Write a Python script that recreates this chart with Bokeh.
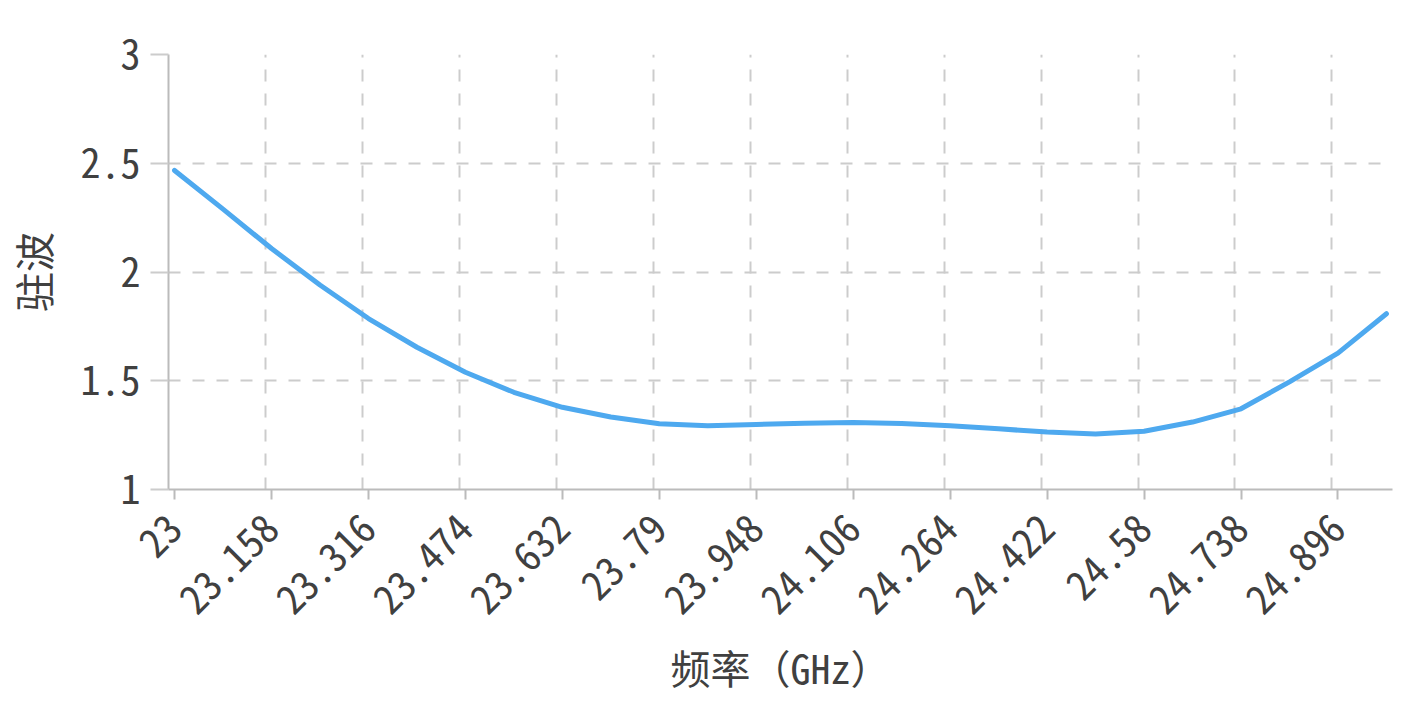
import math

from bokeh.plotting import figure
from bokeh.models import Range1d, FixedTicker
from bokeh.embed import file_html
from bokeh.resources import INLINE

# Data
freq = [23.0, 23.079, 23.158, 23.237, 23.316, 23.395, 23.474, 23.553, 23.632,
        23.711, 23.79, 23.869, 23.948, 24.027, 24.106, 24.185, 24.264, 24.343,
        24.422, 24.501, 24.58, 24.659, 24.738, 24.817, 24.896, 24.975]
vswr = [2.467, 2.289, 2.108, 1.940, 1.786, 1.654, 1.539, 1.447, 1.378,
        1.333, 1.302, 1.293, 1.299, 1.305, 1.308, 1.304, 1.293, 1.279,
        1.264, 1.255, 1.268, 1.310, 1.371, 1.495, 1.627, 1.808]

x_ticks = [23.0, 23.158, 23.316, 23.474, 23.632, 23.79, 23.948, 24.106,
           24.264, 24.422, 24.58, 24.738, 24.896]
x_labels = ["23", "23.158", "23.316", "23.474", "23.632", "23.79", "23.948",
            "24.106", "24.264", "24.422", "24.58", "24.738", "24.896"]
y_ticks = [1, 1.5, 2, 2.5, 3]
y_labels = ["1", "1.5", "2", "2.5", "3"]

# category step of the original axis (8 categories between labels)
step = (x_ticks[1] - x_ticks[0]) / 8
half = step / 2

FONT = "Noto Sans Mono CJK SC"
TEXT = "#404040"
GRID = "#cccccc"
AXIS = "#bbbbbb"

p = figure(x_range=Range1d(freq[0] - half, freq[-1] + half),
           y_range=Range1d(1, 3),
           frame_width=1224, frame_height=435,
           min_border_left=168, min_border_top=54,
           min_border_right=5, min_border_bottom=5,
           output_backend="svg", toolbar_location=None)
p.outline_line_color = None

p.line(freq, vswr, line_color="#4EA9EF", line_width=5,
       line_cap="round", line_join="round")

# x axis
p.xaxis.ticker = FixedTicker(ticks=x_ticks)
p.xaxis.major_label_overrides = dict(zip(x_ticks, x_labels))
p.xaxis.major_label_orientation = math.pi / 4
p.xaxis.major_label_standoff = 22
p.xaxis.axis_label = "频率（GHz）"
p.xaxis.axis_label_standoff = 8
p.xaxis.major_tick_out = 10
p.xaxis.major_tick_in = 0
p.xaxis.minor_tick_line_color = None

# y axis
p.yaxis.ticker = FixedTicker(ticks=y_ticks)
p.yaxis.major_label_overrides = dict(zip(y_ticks, y_labels))
p.yaxis.axis_label = "驻波"
p.yaxis.axis_label_standoff = 16
p.yaxis.major_label_standoff = 10
p.yaxis.major_tick_out = 18
p.yaxis.major_tick_in = 0
p.yaxis.minor_tick_line_color = None
p.yaxis.major_tick_line_color = GRID
p.yaxis.major_label_orientation = "horizontal"

for ax in (p.xaxis, p.yaxis):
    ax.axis_line_color = AXIS
    ax.axis_line_width = 2
    ax.major_tick_line_width = 2
    ax.major_label_text_font = FONT
    ax.major_label_text_font_size = "40px"
    ax.major_label_text_color = TEXT
    ax.axis_label_text_font = FONT
    ax.axis_label_text_font_size = "40px"
    ax.axis_label_text_font_style = "normal"
    ax.axis_label_text_color = TEXT
p.xaxis.major_tick_line_color = AXIS

# grid lines sit on category boundaries, half a step left of the labels
p.xgrid.ticker = FixedTicker(ticks=[t - half for t in x_ticks])
p.ygrid.ticker = FixedTicker(ticks=y_ticks)
for g in (p.xgrid, p.ygrid):
    g.grid_line_color = GRID
    g.grid_line_width = 2
    g.grid_line_dash = "12 12"

open("out.html", "w").write(file_html(p, INLINE))
